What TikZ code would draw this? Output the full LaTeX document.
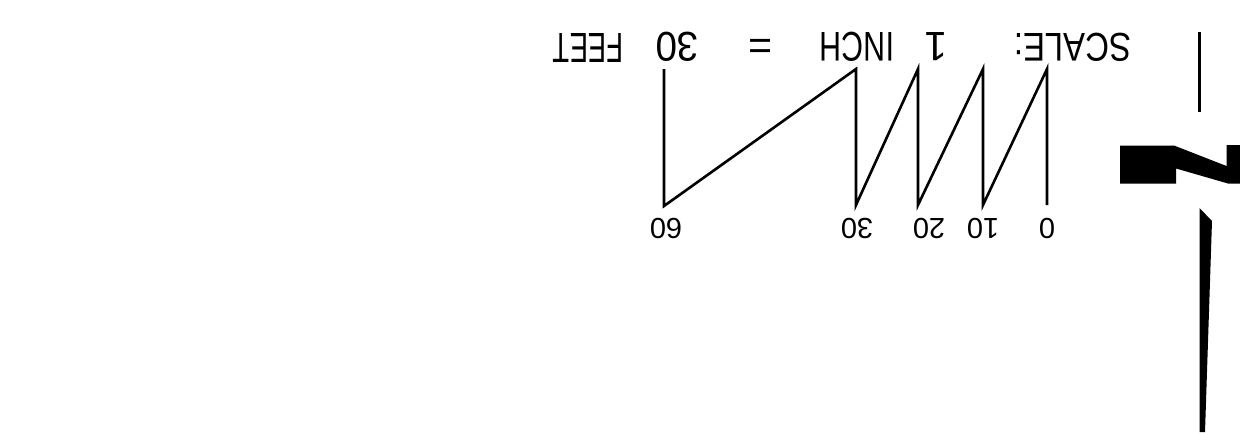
\documentclass[tikz,border=0pt]{standalone}
\usepackage{fontspec}
\setmainfont{Liberation Sans}
\usepackage{graphicx}
\begin{document}
\begin{tikzpicture}[x=1pt,y=-1pt,
  bigtxt/.style={inner sep=0pt, rotate=180, font=\fontsize{41}{41}\selectfont},
  numtxt/.style={inner sep=0pt, rotate=180, font=\fontsize{29}{29}\selectfont},
  scaleline/.style={line width=2.6pt, line join=miter, line cap=butt},
  blk/.style={fill=black, draw=none}]
\useasboundingbox (0,0) rectangle (1240,432);
% zigzag scale bar coordinates
\coordinate (b0)  at (1047,205);
\coordinate (t0)  at (1047,69);
\coordinate (b10) at (983,205);
\coordinate (t10) at (983,69);
\coordinate (b20) at (918,205);
\coordinate (t20) at (918,69);
\coordinate (b30) at (856,205);
\coordinate (t30) at (856,69);
\coordinate (b60) at (664,206);
\coordinate (t60) at (664,69);
\draw[scaleline] (b0) -- (t0) -- (b10) -- (t10) -- (b20) -- (t20) -- (b30) -- (t30) -- (b60) -- (t60);
% labels
\node[numtxt] (l0)  at (1047,228) {0};
\node[numtxt] (l10) at (983,228) {10};
\node[numtxt] (l20) at (929,228) {20};
\node[numtxt] (l30) at (857,228) {30};
\node[numtxt] (l60) at (666,228) {60};
% title
\node[bigtxt] (scale) at (1073,47) {\resizebox{117pt}{28pt}{SCALE:}};
\node[bigtxt] (one)   at (936,47) {1};
\node[bigtxt] (inch)  at (857,47) {\resizebox{74pt}{29pt}{INCH}};
\node[bigtxt] (eq)    at (761,43) {=};
\node[bigtxt] (thirty) at (677,47) {\resizebox{43pt}{29pt}{30}};
\node[bigtxt] (feet)  at (588,48) {\resizebox{70pt}{29pt}{FEET}};
% north arrow fragment
\coordinate (ntop) at (1199,32);
\coordinate (nbot) at (1199,112);
\draw[line width=3pt] (ntop) -- (nbot);
\fill[blk] (1120,145.5) -- (1174,145.5) -- (1226.5,166) -- (1226.5,145) -- (1240,145) -- (1240,183.5)
  -- (1228,183.5) -- (1176,168.5) -- (1176,183.5) -- (1120,183.5) -- cycle;
\fill[blk] (1199.5,208) -- (1212,221) -- (1205,432) -- (1199.5,432) -- cycle;
\end{tikzpicture}
\end{document}
